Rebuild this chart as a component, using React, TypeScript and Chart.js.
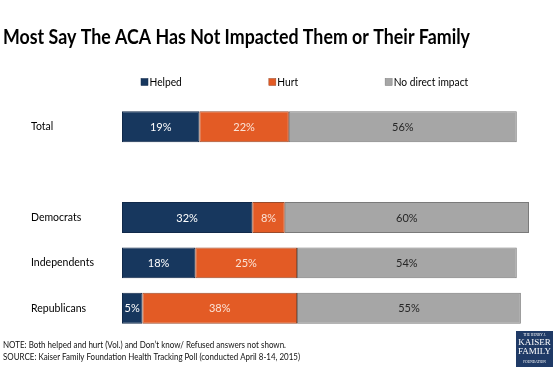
import React, { useEffect, useRef } from "react";
import { Chart, registerables } from "chart.js";
Chart.register(...registerables);

const categories = ["Total", "", "Democrats", "Independents", "Republicans"];
const helped = [19, null, 32, 18, 5];
const hurt = [22, null, 8, 25, 38];
const noImpact = [56, null, 60, 54, 55];
const seriesNames = ["Helped", "Hurt", "No direct impact"];
const seriesColors = ["#17375E", "#E35B25", "#A6A6A6"];
const borderColors = ["#10294A", "#9A4A2A", "#7A7A7A"];
const labelColors = ["#FFFFFF", "#FBE3D6", "#262626"];
const titleText = "Most Say The ACA Has Not Impacted Them or Their Family";
const noteLines = [
  "NOTE: Both helped and hurt (Vol.) and Don\u2019t know/ Refused answers not shown.",
  "SOURCE: Kaiser Family Foundation Health Tracking Poll (conducted April 8-14, 2015)",
];
const logoLines = ["THE HENRY J.", "KAISER", "FAMILY", "FOUNDATION"];

const FONT = "Lato, 'Open Sans', sans-serif";

// draw text horizontally condensed so that it spans the given width
function fillFit(ctx: CanvasRenderingContext2D, text: string, x: number, y: number, width: number) {
  const w = ctx.measureText(text).width;
  const s = Math.min(1, width / w);
  ctx.save();
  ctx.translate(x, y);
  ctx.scale(s, 1);
  ctx.fillText(text, 0, 0);
  ctx.restore();
  return w * s;
}

const decorPlugin = {
  id: "decor",
  afterDraw(chart: any) {
    const ctx = chart.ctx as CanvasRenderingContext2D;
    ctx.save();
    // Title
    ctx.fillStyle = "#000";
    ctx.font = `bold 20px ${FONT}`;
    ctx.textAlign = "left";
    ctx.textBaseline = "alphabetic";
    fillFit(ctx, titleText, 3, 44, 467);

    // Legend
    ctx.font = `11px ${FONT}`;
    ctx.textBaseline = "middle";
    let x = 141;
    const ly = 82;
    chart.data.datasets.forEach((ds: any) => {
      ctx.fillStyle = ds.backgroundColor;
      ctx.fillRect(x, ly - 3.5, 7, 7);
      ctx.strokeStyle = ds.borderColor;
      ctx.lineWidth = 0.5;
      ctx.strokeRect(x, ly - 3.5, 7, 7);
      ctx.fillStyle = "#000";
      const w = ctx.measureText(ds.label).width * 0.93;
      fillFit(ctx, ds.label, x + 8.5, ly, w);
      x += 8.5 + w + 87;
    });

    // Data labels
    ctx.font = `11px ${FONT}`;
    ctx.textAlign = "center";
    ctx.textBaseline = "middle";
    chart.data.datasets.forEach((ds: any, i: number) => {
      const meta = chart.getDatasetMeta(i);
      meta.data.forEach((el: any, j: number) => {
        const v = ds.data[j];
        if (v == null) return;
        const p = el.getProps(["x", "y", "base"], true);
        ctx.fillStyle = labelColors[i];
        ctx.fillText(`${v}%`, (p.x + p.base) / 2, p.y + 0.5);
      });
    });

    // Notes
    ctx.textAlign = "left";
    ctx.fillStyle = "#111";
    ctx.font = `9px ${FONT}`;
    fillFit(ctx, noteLines[0], 3, 345, 283);
    fillFit(ctx, noteLines[1], 3, 357, 297);

    // Logo
    ctx.fillStyle = "#1F3A66";
    ctx.fillRect(516, 331, 37, 36);
    ctx.fillStyle = "#FFFFFF";
    ctx.textAlign = "center";
    ctx.font = `3.5px 'Liberation Serif', serif`;
    ctx.fillText(logoLines[0], 534.5, 335);
    ctx.font = `9px 'Liberation Serif', serif`;
    ctx.fillText(logoLines[1], 534.5, 342.5);
    ctx.fillText(logoLines[2], 534.5, 351.5);
    ctx.font = `3.5px 'Liberation Serif', serif`;
    ctx.fillText(logoLines[3], 534.5, 362);
    ctx.restore();
  },
};

export default function App() {
  const ref = useRef<HTMLCanvasElement>(null);
  useEffect(() => {
    if (!ref.current) return;
    const makeDs = (i: number, data: (number | null)[]) => ({
      label: seriesNames[i],
      data,
      backgroundColor: seriesColors[i],
      borderColor: borderColors[i],
      borderWidth: 1,
      borderSkipped: false,
      categoryPercentage: 0.68,
      barPercentage: 1,
    });
    const chart = new Chart(ref.current, {
      type: "bar",
      data: {
        labels: categories,
        datasets: [makeDs(0, helped), makeDs(1, hurt), makeDs(2, noImpact)],
      },
      options: {
        indexAxis: "y",
        responsive: false,
        animation: false,
        layout: { padding: { top: 104, bottom: 38, left: 31, right: 24 } },
        plugins: {
          legend: { display: false },
          title: { display: false },
          tooltip: { enabled: false },
        },
        scales: {
          x: { stacked: true, min: 0, max: 100, display: false },
          y: {
            stacked: true,
            grid: { display: false },
            border: { display: false },
            afterFit: (s: any) => {
              s.width = 91;
            },
            ticks: {
              crossAlign: "far",
              padding: 0,
              color: "#000",
              font: { family: FONT, size: 10.5 },
            },
          },
        },
      },
      plugins: [decorPlugin],
    });
    return () => chart.destroy();
  }, []);
  return (
    <div style={{ position: "absolute", left: 0, top: 0, width: 553, height: 369, background: "#fff" }}>
      <canvas ref={ref} width={553} height={369} style={{ display: "block" }} />
    </div>
  );
}
